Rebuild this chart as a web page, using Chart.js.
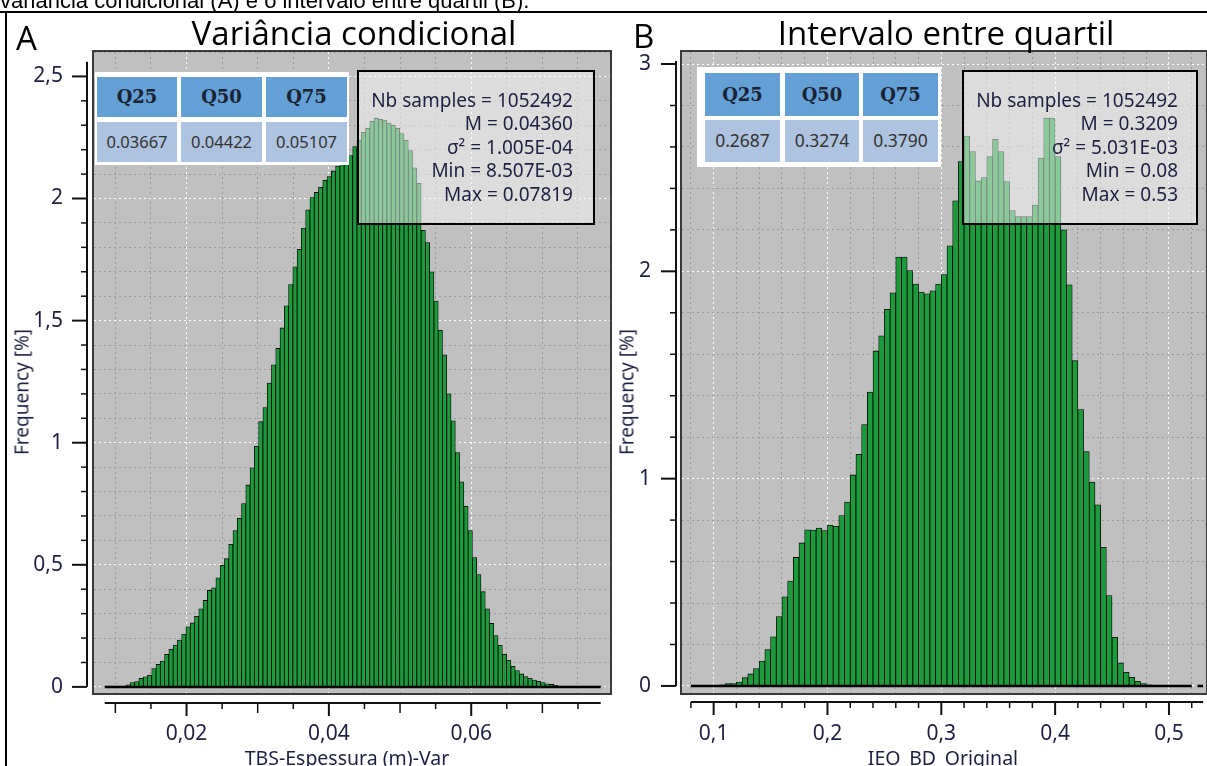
<!DOCTYPE html>
<html>
<head>
<meta charset="utf-8">
<script src="https://cdn.jsdelivr.net/npm/chart.js@4.4.1/dist/chart.umd.min.js"></script>
<style>
  html, body { margin: 0; padding: 0; }
  body { width: 1207px; height: 766px; overflow: hidden; position: relative; background: #fff; }
  canvas { position: absolute; top: 0; }
  .abs { position: absolute; white-space: nowrap; line-height: 1; }
  .cell { position: absolute; display: flex; align-items: center; justify-content: center; }
</style>
</head>
<body>
<canvas id="histA" width="620" height="766" style="left:0"></canvas>
<canvas id="histB" width="620" height="766" style="left:600px"></canvas>
<script>
// ---- data ----
const quartileNames = ['Q25', 'Q50', 'Q75'];

// A: TBS-Espessura (m)-Var, 116 classes between Min and Max, frequency in %
const minA = 0.008507, maxA = 0.07819;
const freqA = [
  0.003, 0.003, 0.003, 0.003, 0.003,
  0.008,
  0.018, 0.022, 0.035, 0.041, 0.048,
  0.075, 0.092, 0.106, 0.133, 0.154,
  0.171, 0.192, 0.216, 0.246, 0.262,
  0.289, 0.32, 0.354, 0.395, 0.406,
  0.447, 0.498, 0.525, 0.584, 0.64,
  0.69, 0.751, 0.827, 0.897, 0.985,
  1.086, 1.144, 1.244, 1.319, 1.386,
  1.47, 1.561, 1.648, 1.72, 1.792,
  1.879, 1.954, 2.004, 2.025, 2.046,
  2.075, 2.09, 2.113, 2.133, 2.149,
  2.158, 2.176, 2.213, 2.238, 2.271,
  2.288, 2.316, 2.329, 2.324, 2.321,
  2.309, 2.3, 2.288, 2.266, 2.238,
  2.196, 2.126, 2.062, 1.87, 1.82,
  1.7, 1.58, 1.46, 1.36, 1.2,
  1.09, 0.96, 0.84, 0.74, 0.64,
  0.53, 0.46, 0.39, 0.32, 0.26,
  0.21, 0.17, 0.134, 0.109, 0.084,
  0.067, 0.053, 0.042, 0.035, 0.028,
  0.023, 0.018, 0.013, 0.01, 0.006,
  0.003, 0.003, 0.003, 0.003, 0.003, 0.003, 0.003, 0.003, 0.003, 0.003,
];
const quartilesA = ['0.03667', '0.04422', '0.05107'];
const statsA = ['Nb samples = 1052492', 'M = 0.04360', 'σ² = 1.005E-04', 'Min = 8.507E-03', 'Max = 0.07819'];
const xTickValsA = [0.02, 0.04, 0.06];
const xTickTextA = ['0,02', '0,04', '0,06'];
const yTickValsA = [0, 0.5, 1, 1.5, 2, 2.5];
const yTickTextA = ['0', '0,5', '1', '1,5', '2', '2,5'];

// B: IEO_BD_Original, 90 classes of 0.005 between Min and Max
const minB = 0.08, maxB = 0.53;
const freqB = [
  0.002, 0.002, 0.002, 0.002, 0.002,
  0.005, 0.011, 0.011, 0.019, 0.04,
  0.058, 0.084, 0.12, 0.175, 0.237,
  0.335, 0.43, 0.506, 0.62, 0.69,
  0.753, 0.752, 0.762, 0.75, 0.775,
  0.77, 0.822, 0.887, 1.018, 1.117,
  1.261, 1.418, 1.616, 1.689, 1.817,
  1.896, 2.069, 2.069, 2.004, 1.939,
  1.9, 1.892, 1.906, 1.939, 1.984,
  2.123, 2.34, 2.53, 2.653, 2.578,
  2.436, 2.452, 2.553, 2.637, 2.578,
  2.433, 2.293, 2.264, 2.264, 2.264,
  2.32, 2.546, 2.739, 2.739, 2.553,
  2.2, 1.935, 1.569, 1.333, 1.13,
  0.984, 0.874, 0.669, 0.436, 0.235,
  0.111, 0.066, 0.042, 0.022, 0.012,
  0.006, 0.002, 0.002, 0.002, 0.002,
  0.002, 0.002, 0.002, null, 0.002,
];
const quartilesB = ['0.2687', '0.3274', '0.3790'];
const statsB = ['Nb samples = 1052492', 'M = 0.3209', 'σ² = 5.031E-03', 'Min = 0.08', 'Max = 0.53'];
const xTickValsB = [0.1, 0.2, 0.3, 0.4, 0.5];
const xTickTextB = ['0,1', '0,2', '0,3', '0,4', '0,5'];
const yTickValsB = [0, 1, 2, 3];
const yTickTextB = ['0', '1', '2', '3'];

// ---- helpers ----
const near = (a, b) => Math.abs(a - b) < 1e-7;
const isMultiple = (v, step) => near(v / step, Math.round(v / step));

function classPoints(min, max, values) {
  const w = (max - min) / values.length;
  return values.map((v, i) => ({x: min + (i + 0.5) * w, y: v}));
}

function labeller(vals, texts) {
  return value => {
    const i = vals.findIndex(v => near(v, value));
    return i < 0 ? '' : texts[i];
  };
}

function makeHistogram(id, cfg) {
  const w = (cfg.max - cfg.min) / cfg.values.length;
  const majorX = v => cfg.xTickVals.some(t => near(t, v));
  const majorY = v => cfg.yTickVals.some(t => near(t, v));

  const frame = {
    id: 'frame',
    beforeDraw(chart) {
      const {ctx, chartArea: a} = chart;
      ctx.save();
      ctx.fillStyle = '#c0c0c0';
      ctx.fillRect(a.left, a.top, a.right - a.left, a.bottom - a.top);
      ctx.restore();
    },
    afterDatasetsDraw(chart) {
      // zero-height classes still show their outline along the base
      const {ctx} = chart;
      const xs = chart.scales.x, ys = chart.scales.y;
      const y0 = ys.getPixelForValue(0);
      ctx.save();
      ctx.strokeStyle = '#000';
      ctx.lineWidth = 2.5;
      ctx.beginPath();
      cfg.values.forEach((v, i) => {
        if (v === null) return;
        ctx.moveTo(xs.getPixelForValue(cfg.min + i * w), y0);
        ctx.lineTo(xs.getPixelForValue(cfg.min + (i + 1) * w), y0);
      });
      ctx.stroke();
      ctx.restore();
    },
    afterDraw(chart) {
      const {ctx, chartArea: a} = chart;
      const xs = chart.scales.x, ys = chart.scales.y;
      const seg = (x1, y1, x2, y2, lw) => {
        ctx.lineWidth = lw;
        ctx.beginPath();
        ctx.moveTo(x1, y1);
        ctx.lineTo(x2, y2);
        ctx.stroke();
      };
      ctx.save();
      ctx.strokeStyle = '#3a3a3a';
      ctx.lineWidth = 2;
      ctx.strokeRect(a.left - 1, a.top - 1, a.right - a.left + 2, a.bottom - a.top + 2);

      // detached y axis
      ctx.strokeStyle = '#111';
      const ax = a.left - cfg.yGap;
      seg(ax, ys.getPixelForValue(0), ax, ys.getPixelForValue(cfg.yTop), 2);
      ys.ticks.forEach(t => {
        if (t.value < 0 || t.value > cfg.yTop) return;
        const p = ys.getPixelForValue(t.value);
        const major = majorY(t.value);
        seg(ax - (major ? 15 : 6), p, ax, p, major ? 2 : 1.5);
      });

      // detached x axis, spanning Min..Max
      const ay = a.bottom + cfg.xGap;
      seg(xs.getPixelForValue(cfg.min), ay, xs.getPixelForValue(cfg.max), ay, 2);
      xs.ticks.forEach(t => {
        const p = xs.getPixelForValue(t.value);
        const major = majorX(t.value);
        let len = 6;
        if (major) len = 13;
        else if (cfg.midStep && isMultiple(t.value, cfg.midStep)) len = 10;
        seg(p, ay, p, ay + len, major ? 2 : 1.5);
      });
      ctx.restore();
    },
  };

  return new Chart(document.getElementById(id), {
    type: 'bar',
    data: {
      datasets: [{
        data: classPoints(cfg.min, cfg.max, cfg.values),
        backgroundColor: '#1d9a3c',
        borderColor: '#000',
        borderWidth: 0.8,
        categoryPercentage: 1,
        barPercentage: 1,
      }],
    },
    options: {
      responsive: false,
      animation: false,
      layout: {padding: {left: 0, right: 10, top: 52, bottom: 0}},
      plugins: {legend: {display: false}, tooltip: {enabled: false}},
      scales: {
        x: {
          type: 'linear',
          min: cfg.xMin,
          max: cfg.xMax,
          offset: false,
          afterFit: s => { s.height = 73; },
          grid: {
            offset: false,
            drawTicks: false,
            lineWidth: 1,
            color: c => majorX(c.tick.value) ? '#ffffff' : '#9c9c9c',
          },
          border: {display: false, dash: [2, 3]},
          ticks: {
            stepSize: cfg.xStep,
            includeBounds: false,
            autoSkip: false,
            maxRotation: 0,
            minRotation: 0,
            padding: 28,
            color: '#1e2040',
            font: {family: 'Noto Sans', size: 21},
            callback: labeller(cfg.xTickVals, cfg.xTickText),
          },
        },
        y: {
          type: 'linear',
          min: cfg.yMin,
          max: cfg.yMax,
          afterFit: s => { s.width = cfg.yWidth; },
          grid: {
            drawTicks: false,
            lineWidth: 1,
            color: c => majorY(c.tick.value) ? '#ffffff' : '#9c9c9c',
          },
          border: {display: false, dash: [2, 3]},
          ticks: {
            stepSize: cfg.yStep,
            includeBounds: false,
            autoSkip: false,
            padding: 31,
            color: '#1e2040',
            font: {family: 'Noto Sans', size: 21},
            callback: labeller(cfg.yTickVals, cfg.yTickText),
          },
        },
      },
    },
    plugins: [frame],
  });
}

makeHistogram('histA', {
  values: freqA, min: minA, max: maxA,
  xMin: 0.007, xMax: 0.0795, xStep: 0.005, midStep: 0.01,
  yMin: -0.025, yMax: 2.6, yStep: 0.1, yTop: 2.56,
  xTickVals: xTickValsA, xTickText: xTickTextA,
  yTickVals: yTickValsA, yTickText: yTickTextA,
  yWidth: 94, yGap: 7, xGap: 10,
});

makeHistogram('histB', {
  values: freqB, min: minB, max: maxB,
  xMin: 0.0722, xMax: 0.5325, xStep: 0.02, midStep: 0,
  yMin: -0.034, yMax: 3.058, yStep: 0.2, yTop: 3.015,
  xTickVals: xTickValsB, xTickText: xTickTextB,
  yTickVals: yTickValsB, yTickText: yTickTextB,
  yWidth: 82, yGap: 6, xGap: 9,
});

// ---- text and overlays ----
function addBox(cls, style, text) {
  const d = document.createElement('div');
  d.className = cls;
  if (text !== undefined) d.textContent = text;
  Object.assign(d.style, style);
  document.body.appendChild(d);
  return d;
}

addBox('abs', {font: "22px/1 'Liberation Sans'", left: '0px', top: '-10px', color: '#000'},
  'variância condicional (A) e o intervalo entre quartil (B).');
addBox('abs', {left: '0px', top: '11px', width: '1207px', height: '2px', background: '#000'});
addBox('abs', {left: '5px', top: '11px', width: '2px', height: '760px', background: '#000'});

const panels = [
  {letter: 'A', letterX: 16, letterTop: 20.7, title: 'Variância condicional', titleX: 354,
   axisTitle: 'TBS-Espessura (m)-Var', axisX: 347, freqX: 22,
   band: [95, 72, 254, 93], cellX: [97, 181, 266], cellW: [80, 81, 81],
   head: [77, 40], vals: [122, 40], valSize: 16.5, quart: quartilesA,
   stats: statsA, statBox: [357, 70, 238, 155], statRight: 573},
  {letter: 'B', letterX: 633, letterTop: 18.7, title: 'Intervalo entre quartil', titleX: 946,
   axisTitle: 'IEO_BD_Original', axisX: 943, freqX: 627,
   band: [697, 67, 244, 100], cellX: [705, 785, 863], cellW: [75, 74, 75],
   head: [73, 43], vals: [120, 42], valSize: 17.5, quart: quartilesB,
   stats: statsB, statBox: [962, 70, 236, 155], statRight: 1178},
];

panels.forEach(p => {
  addBox('abs', {font: "33px/1 'Open Sans'", left: p.letterX + 'px', top: p.letterTop + 'px', color: '#000'}, p.letter);
  addBox('abs', {font: "33px/1 'Open Sans'", left: p.titleX + 'px', top: '15.7px',
    transform: 'translateX(-50%)', color: '#000'}, p.title);
  addBox('abs', {font: "19.5px/1 'Noto Sans'", left: p.axisX + 'px', top: '747.7px',
    transform: 'translateX(-50%)', color: '#1e2040'}, p.axisTitle);
  addBox('abs', {font: "19px/1 'Noto Sans'", left: p.freqX + 'px', top: '392px',
    transform: 'translate(-50%, -50%) rotate(-90deg)', color: '#1e2040'}, 'Frequency [%]');

  // quartile table
  const [bx, by, bw, bh] = p.band;
  addBox('abs', {left: bx + 'px', top: by + 'px', width: bw + 'px', height: bh + 'px', background: '#fff'});
  quartileNames.forEach((q, i) => {
    addBox('cell', {font: "bold 18px/1 'DejaVu Serif'", left: p.cellX[i] + 'px', top: p.head[0] + 'px',
      width: p.cellW[i] + 'px', height: p.head[1] + 'px', background: '#649fd6', color: '#1a2334'}, q);
    addBox('cell', {font: p.valSize + "px/1 'Noto Sans'", left: p.cellX[i] + 'px', top: p.vals[0] + 'px',
      width: p.cellW[i] + 'px', height: p.vals[1] + 'px', background: '#adc3df', color: '#333'}, p.quart[i]);
  });

  // statistics box, see-through over the bars
  const [sx, sy, sw, sh] = p.statBox;
  addBox('abs', {left: sx + 'px', top: sy + 'px', width: sw + 'px', height: sh + 'px', boxSizing: 'border-box',
    border: '2px solid #000', background: 'rgba(248,248,248,0.5)'});
  addBox('abs', {font: "19px/23.4px 'Noto Sans'", left: (p.statRight - 300) + 'px', top: '89px', width: '300px',
    textAlign: 'right', whiteSpace: 'pre', color: '#1e2040'}, p.stats.join('\n'));
});
</script>
</body>
</html>
